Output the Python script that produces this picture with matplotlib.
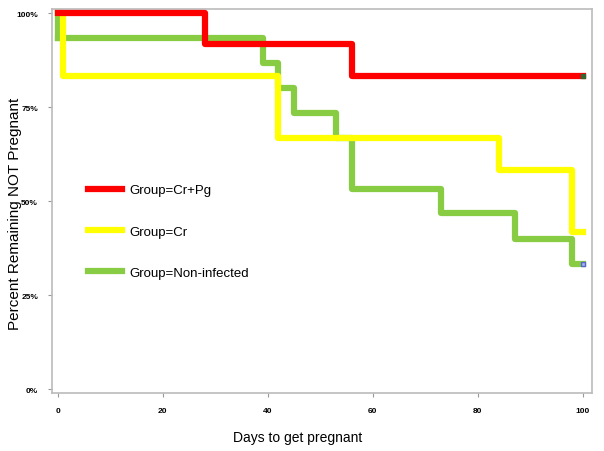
import numpy as np
import matplotlib.pyplot as plt

plt.rcParams['font.family'] = ['Liberation Sans', 'DejaVu Sans']

# Kaplan-Meier step data (days, percent remaining)
crpg_days = [0, 28, 56, 100]
crpg_surv = [100, 91.7, 83.3, 83.3]

cr_days = [0, 1, 42, 84, 98, 100]
cr_surv = [100, 83.3, 66.7, 58.3, 41.7, 41.7]

non_days = [0, 39, 42, 45, 53, 56, 73, 87, 98, 100]
non_surv = [93.3, 86.7, 80.0, 73.3, 66.7, 53.3, 46.7, 40.0, 33.3, 33.3]

x_ticks = [0, 20, 40, 60, 80, 100]
y_ticks = [0, 25, 50, 75, 100]
y_ticklabels = ['0%', '25%', '50%', '75%', '100%']

fig = plt.figure(figsize=(6.04, 4.52), dpi=100)
ax = fig.add_axes([0.086, 0.128, 0.894, 0.85])

ax.step(crpg_days, crpg_surv, where='post', color='#ff0000', lw=4.5, label='Group=Cr+Pg', zorder=3)
ax.step(cr_days, cr_surv, where='post', color='#ffff00', lw=4.5, label='Group=Cr', zorder=2)
ax.step(non_days, non_surv, where='post', color='#88cc44', lw=4.5, label='Group=Non-infected', zorder=1)
# green line starts at 100 before the first drop
ax.plot([non_days[0], non_days[0]], [100, non_surv[0]], color='#88cc44', lw=4.5, zorder=1)

# censor marks at the end
ax.plot(crpg_days[-1], crpg_surv[-1], 's', ms=3, color='#336633', zorder=4)
ax.plot(non_days[-1], non_surv[-1], 's', ms=3, mfc='#aab4ee', mec='#5566cc', zorder=4)

ax.set_xlim(-1.1, 101.7)
ax.set_ylim(-1.1, 101.1)
ax.set_xticks(x_ticks)
ax.set_xticklabels([str(v) for v in x_ticks], fontsize=6, fontweight='bold')
ax.set_yticks(y_ticks)
ax.set_yticklabels(y_ticklabels, fontsize=6, fontweight='bold')
ax.tick_params(length=3, width=0.8, color='#999999', pad=7)

for s in ax.spines.values():
    s.set_color('#bbbbbb')
    s.set_linewidth(1.2)

# axis titles placed as in the reference
fig.text(298 / 604, 1 - 438 / 452, 'Days to get pregnant', fontsize=10,
         ha='center', va='center')
fig.text(15 / 604, 1 - 214 / 452, 'Percent Remaining NOT Pregnant', fontsize=11,
         rotation=90, ha='center', va='center')

ax.legend(loc='upper left', bbox_to_anchor=(0.045, 0.575), frameon=False,
          fontsize=9.5, handlelength=2.6, labelspacing=2.2, handletextpad=0.5)

plt.savefig('out.png', dpi=100)
